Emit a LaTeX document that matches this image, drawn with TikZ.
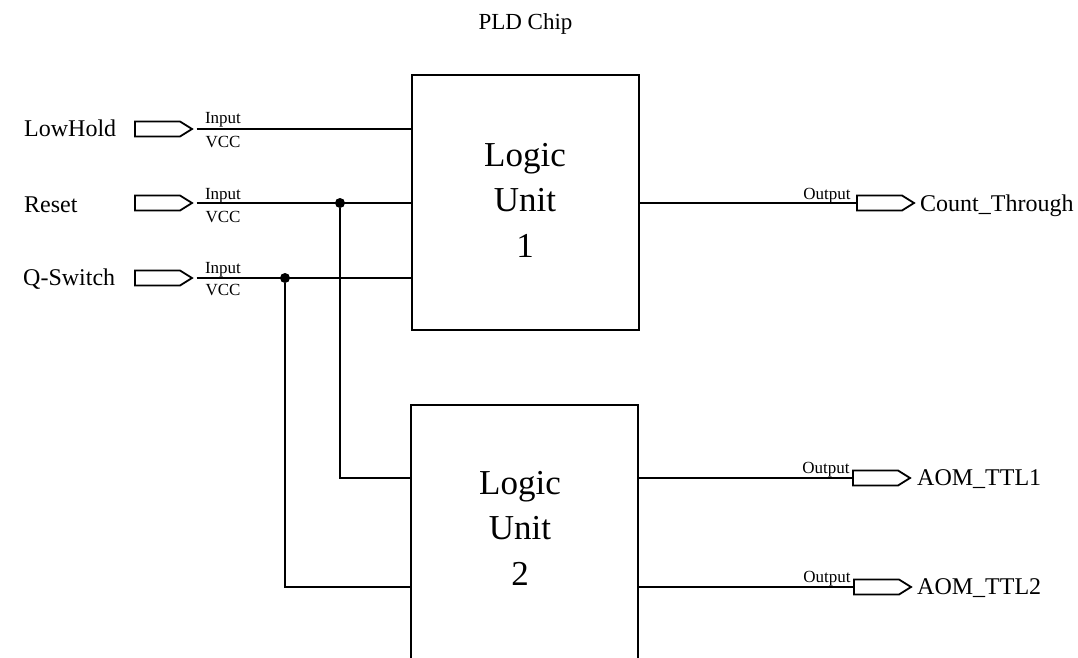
\documentclass[tikz,border=0pt]{standalone}
\usepackage{fontspec}
\setmainfont{Liberation Serif}
\usepackage{tikz}
\usetikzlibrary{
  shapes.symbols,
  positioning
}
\tikzset{
    portbox/.style={draw, line width=1.8pt, signal, signal to=east, signal pointer angle=64, inner sep=0pt, minimum width=57pt, minimum height=15pt},
    unitbox/.style={draw, line width=2.6pt, rectangle, minimum width=227pt, minimum height=255pt},
    unittext/.style={align=center, font=\fontsize{35}{45.5}\selectfont},
    signame/.style={anchor=base west, inner sep=0pt, font=\fontsize{24}{28}\selectfont},
    wirename/.style={anchor=base, inner sep=0pt, font=\fontsize{17}{20}\selectfont},
    wire/.style={line width=2.1pt},
    joint/.style={circle, fill=black, inner sep=0pt, minimum size=10pt}
}
\begin{document}
\begin{tikzpicture}[x=1pt, y=-1pt]
    \path[use as bounding box, clip] (0,0) rectangle (1078,658);

    \node[anchor=base, font=\fontsize{23}{27}\selectfont] (title) at (525.5,30) {PLD Chip};

    \node[unitbox] (unita) at (525.5,202.5) {};
    \node[unitbox] (unitb) at (524.5,532.5) {};
    \node[unittext] (unitatext) at (525,200) {Logic\\Unit\\1};
    \node[unittext] (unitbtext) at (520,528) {Logic\\Unit\\2};

    \node[portbox] (portlow) at (157.5,129) {};
    \node[portbox] (portreset) at (157.5,203) {};
    \node[portbox] (portq) at (157.5,278) {};
    \node[portbox] (portcount) at (879.5,203) {};
    \node[portbox] (portttla) at (875.5,478) {};
    \node[portbox] (portttlb) at (876.5,587) {};

    \node[signame] (namelow) at (24,136) {LowHold};
    \node[signame] (namereset) at (24,212) {Reset};
    \node[signame] (nameq) at (23,285) {Q-Switch};
    \node[signame] (namecount) at (920,211) {Count\_Through};
    \node[signame] (namettla) at (917,485) {AOM\_TTL1};
    \node[signame] (namettlb) at (917,594) {AOM\_TTL2};

    \node[wirename] (inlow) at (223,123.5) {Input};
    \node[wirename] (vcclow) at (223,147) {VCC};
    \node[wirename] (inreset) at (223,199) {Input};
    \node[wirename] (vccreset) at (223,222) {VCC};
    \node[wirename] (inq) at (223,273) {Input};
    \node[wirename] (vccq) at (223,295) {VCC};
    \node[wirename] (outcount) at (827,199) {Output};
    \node[wirename] (outttla) at (826,473) {Output};
    \node[wirename] (outttlb) at (827,582) {Output};

    \node[joint] (jointreset) at (340,203) {};
    \node[joint] (jointq) at (285,278) {};
    \coordinate (hitreset) at (411.5,478);
    \coordinate (hitq) at (411.5,587);

    \draw[wire] ([xshift=3pt]portlow.east) -- (portlow.east -| unita.west);
    \draw[wire] ([xshift=3pt]portreset.east) -- (portreset.east -| unita.west);
    \draw[wire] ([xshift=3pt]portq.east) -- (portq.east -| unita.west);
    \draw[wire] (jointreset) |- (hitreset);
    \draw[wire] (jointq) |- (hitq);
    \draw[wire] (portcount.west -| unita.east) -- (portcount.west);
    \draw[wire] (portttla.west -| unitb.east) -- (portttla.west);
    \draw[wire] (portttlb.west -| unitb.east) -- (portttlb.west);
\end{tikzpicture}
\end{document}
